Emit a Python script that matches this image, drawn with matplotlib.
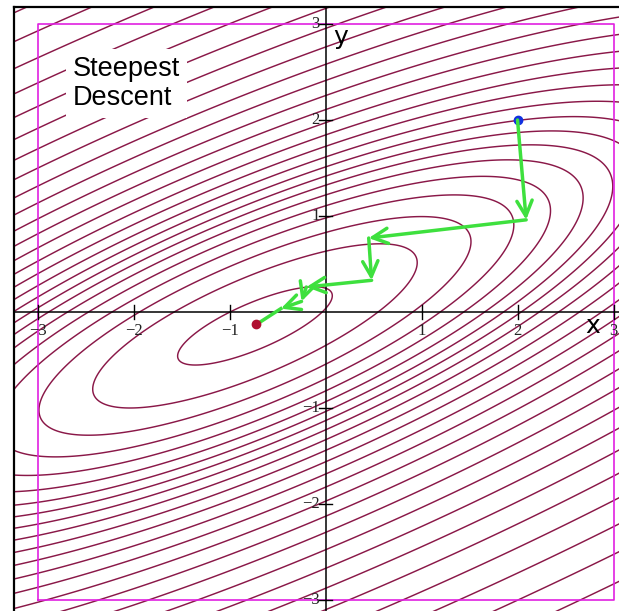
import numpy as np
import matplotlib.pyplot as plt

# steepest descent iterates (start point first)
path_x = [2.0, 2.09, 0.45, 0.48, -0.20, -0.25, -0.465]
path_y = [2.0, 0.96, 0.77, 0.33, 0.26, 0.11, 0.035]
end_x, end_y = -0.72, -0.13

# objective: quadratic bowl around the minimum, flattening further out
x_min, y_min = -0.735, -0.145
hess = [[3.79, -5.77], [-5.77, 14.8]]
q_knee = 24.0
level_step = 3.4

tick_vals = [-3, -2, -1, 1, 2, 3]

fig = plt.figure(figsize=(6.19, 6.11), dpi=100)
ax = fig.add_axes([14 / 619, 0, 605 / 619, 604 / 611])
ax.set_xlim(-3.245, 3.057)
ax.set_ylim(-3.115, 3.177)
ax.set_xticks([])
ax.set_yticks([])
for side in ['right', 'bottom']:
    ax.spines[side].set_visible(False)
for side in ['left', 'top']:
    ax.spines[side].set_linewidth(1.6)

X, Y = np.meshgrid(np.linspace(-3.5, 3.5, 600), np.linspace(-3.5, 3.5, 600))
dx, dy = X - x_min, Y - y_min
Q = hess[0][0] * dx**2 + 2 * hess[0][1] * dx * dy + hess[1][1] * dy**2
F = np.where(Q < q_knee, Q, q_knee * (1 + np.log(np.maximum(Q, 1e-9) / q_knee)))
levels = 1 + level_step * np.arange(0, 60)
ax.contour(X, Y, F, levels=levels, colors='#8a1848', linewidths=1.05)

# domain box
ax.plot([-3, 3, 3, -3, -3], [-3, -3, 3, 3, -3], color='#e020e0', lw=1.2)

# coordinate axes through the origin
ax.axhline(0, color='black', lw=1.1)
ax.axvline(0, color='black', lw=1.1)
for t in tick_vals:
    ax.plot([t, t], [-0.07, 0.07], color='black', lw=1)
    ax.plot([-0.07, 0.07], [t, t], color='black', lw=1)
    lab = str(t).replace('-', '\u2212')
    ax.text(t, -0.2, lab, ha='center', va='center', fontsize=12,
            family='Liberation Serif', color='#222222')
    ax.text(-0.06, t, lab, ha='right', va='center', fontsize=12,
            family='Liberation Serif', color='#222222')
ax.text(2.78, -0.15, 'x', fontsize=18, family='DejaVu Sans', ha='center', va='center')
ax.text(0.16, 2.86, 'y', fontsize=18, family='DejaVu Sans', ha='center', va='center')

# descent path
for i in range(len(path_x) - 1):
    ax.annotate('', xy=(path_x[i + 1], path_y[i + 1]), xytext=(path_x[i], path_y[i]),
                arrowprops=dict(arrowstyle='->, head_length=0.5, head_width=0.25',
                                color='#3ee03e', lw=2.5, mutation_scale=22,
                                shrinkA=0, shrinkB=0))
ax.plot([path_x[-1], end_x], [path_y[-1], end_y], color='#3ee03e', lw=2.5)
ax.plot(path_x[0], path_y[0], 'o', color='#1030e0', ms=6)
ax.plot(end_x, end_y, 'o', color='#b01030', ms=6)

ax.text(-2.63, 2.67, 'Steepest\nDescent', fontsize=19.5, family='Liberation Sans',
        va='top', ha='left', linespacing=1.15,
        bbox=dict(facecolor='white', edgecolor='none', pad=5))

fig.savefig('out.png', dpi=100)
